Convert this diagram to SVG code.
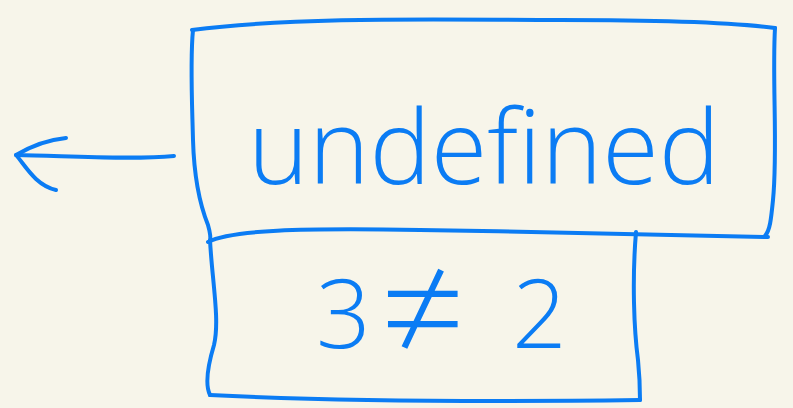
<svg xmlns="http://www.w3.org/2000/svg" width="793" height="408" viewBox="0 0 793 408">
<style>
.s{fill:none;stroke:#0b7cf4;stroke-width:4;stroke-linecap:round;stroke-linejoin:round}
.t{fill:#0b7cf4;font-family:"Open Sans","Liberation Sans",Arial,sans-serif;font-weight:300}
</style>
<rect width="793" height="408" fill="#f7f5ea"/>
<g id="top-box">
<path class="s" d="M193,30 C190,60 192,100 193,140 C194,175 200,205 208,225 C210,232 211,238 210,242"/>
<path class="s" d="M192,30 C300,16 450,20 560,20 C660,20 730,22 775,28"/>
<path class="s" d="M775,28 C772,80 778,150 773,200 C771,220 770,230 765,236"/>
<path class="s" d="M208,242 C230,230 300,228 420,230 C550,232 700,236 768,237"/>
<text class="t" x="248" y="184" font-size="104" textLength="472" lengthAdjust="spacingAndGlyphs">undefined</text>
</g>
<g id="bottom-box">
<path class="s" d="M210,240 C212,280 220,320 214,345 C208,365 205,385 210,395"/>
<path class="s" d="M210,395 C330,401 480,402 640,400"/>
<path class="s" d="M636,232 C632,280 634,330 638,360 C640,380 640,392 640,400"/>
<text class="t" y="348" font-size="96"><tspan x="316">3</tspan><tspan x="380" y="362" font-size="150">≠</tspan><tspan x="512" y="348">2</tspan></text>
</g>
<g id="connectors">
<path class="s" d="M174,156 C130,160 70,156 16,155"/>
<path class="s" d="M66,138 C45,140 28,148 16,155 C25,165 35,185 56,190"/>
</g>
</svg>
